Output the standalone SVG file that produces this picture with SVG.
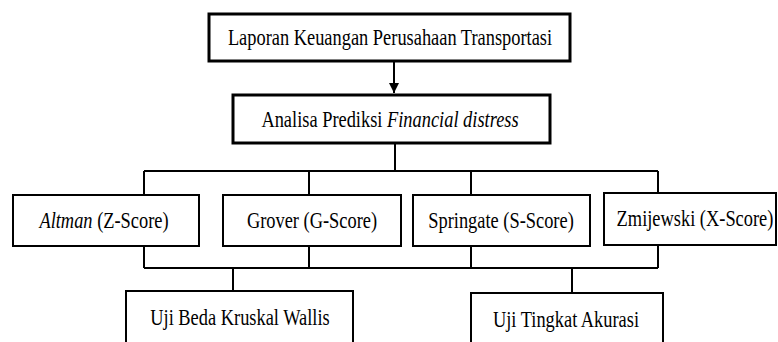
<svg xmlns="http://www.w3.org/2000/svg" width="778" height="342" viewBox="0 0 778 342">
<style>
  .box { fill: #fff; stroke: #000; stroke-width: 2; }
  .thick { stroke-width: 3; }
  .lbl { font-family: "Liberation Serif", "Times New Roman", serif; font-size: 18.4px; fill: #000; text-anchor: middle; }
  .it { font-style: italic; }
  .conn { fill: none; stroke: #000; stroke-width: 2; }
</style>
<defs>
  <marker id="arr" viewBox="0 0 10 10" refX="10" refY="5" markerWidth="5" markerHeight="6" markerUnits="strokeWidth" orient="auto">
    <path d="M0,0 L10,5 L0,10 z" fill="#000"/>
  </marker>
</defs>
<rect width="778" height="342" fill="#fff"/>
<g id="connectors">
  <line class="conn" x1="394" y1="61" x2="394" y2="93" marker-end="url(#arr)"/>
  <path class="conn" d="M395,143 V171 M144,171 H658 M144,171 V195 M309,171 V195 M471,171 V195 M658,171 V193"/>
  <path class="conn" d="M144,246 V268 M309,246 V268 M471,246 V268 M658,245 V268 M144,268 H658 M233,268 V291 M572,268 V293"/>
</g>
<g id="n-laporan">
  <rect class="box thick" x="209" y="14" width="361" height="47"/>
  <text class="lbl" transform="translate(390,45) scale(1,1.25)">Laporan Keuangan Perusahaan Transportasi</text>
</g>
<g id="n-analisa">
  <rect class="box thick" x="233" y="95" width="317" height="48"/>
  <text class="lbl" transform="translate(390,127) scale(1,1.25)">Analisa Prediksi <tspan class="it">Financial distress</tspan></text>
</g>
<g id="n-altman">
  <rect class="box" x="13" y="195" width="186" height="51"/>
  <text class="lbl" transform="translate(104,228) scale(1,1.25)"><tspan class="it">Altman</tspan> (Z-Score)</text>
</g>
<g id="n-grover">
  <rect class="box" x="223" y="195" width="178" height="51"/>
  <text class="lbl" transform="translate(312,228) scale(1,1.25)">Grover (G-Score)</text>
</g>
<g id="n-springate">
  <rect class="box" x="413" y="195" width="177" height="51"/>
  <text class="lbl" transform="translate(501,228) scale(1,1.25)">Springate (S-Score)</text>
</g>
<g id="n-zmijewski">
  <rect class="box" x="604" y="193" width="172" height="52"/>
  <text class="lbl" transform="translate(695,226) scale(1,1.25)">Zmijewski (X-Score)</text>
</g>
<g id="n-kruskal">
  <rect class="box" x="126" y="291" width="227" height="60"/>
  <text class="lbl" transform="translate(240,325) scale(1,1.25)">Uji Beda Kruskal Wallis</text>
</g>
<g id="n-akurasi">
  <rect class="box" x="471" y="293" width="192" height="60"/>
  <text class="lbl" transform="translate(566,327) scale(1,1.25)">Uji Tingkat Akurasi</text>
</g>
</svg>
